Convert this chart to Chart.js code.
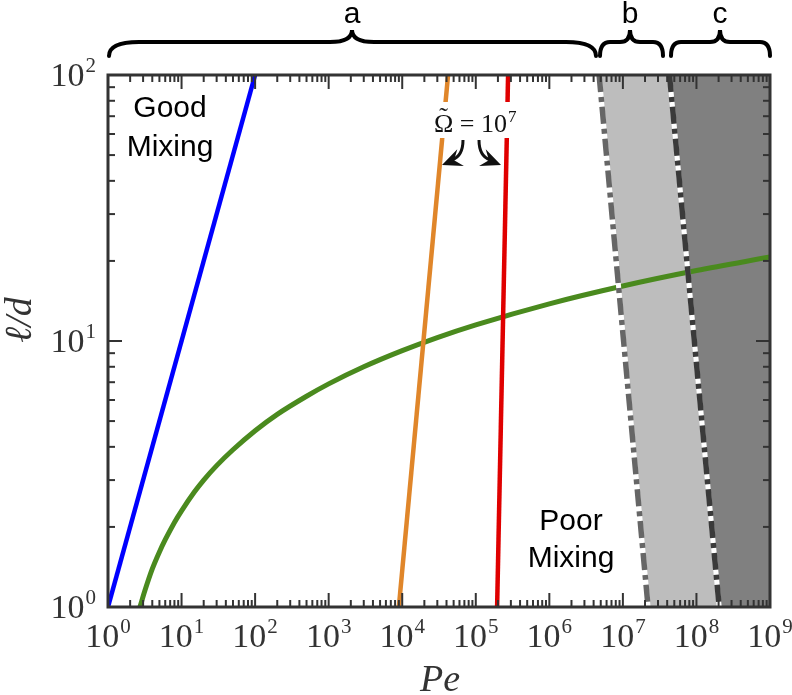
<!DOCTYPE html>
<html>
<head>
<meta charset="utf-8">
<script src="https://cdn.jsdelivr.net/npm/chart.js@4.4.1/dist/chart.umd.min.js"></script>
<style>
  html, body { margin: 0; padding: 0; background: #fff; }
  #wrap { width: 792px; height: 695px; position: relative; }
</style>
</head>
<body>
<div id="wrap"><canvas id="chart"></canvas></div>
<script>
// x = Pe, y = l/d
const blueX = [1, 100];
const blueY = [1, 100];
const orangeX = [9.0e3, 4.2e4];
const orangeY = [1, 100];
const redX = [1.95e5, 2.75e5];
const redY = [1, 100];
const greenX = [2.72, 3.2, 4, 5, 6, 8, 10, 15, 20, 30, 50, 100, 200, 500, 1e3, 3e3, 1e4, 3e4, 1e5, 1e6, 1e7, 1e8, 1e9];
const greenY = [1.0, 1.16, 1.39, 1.61, 1.79, 2.08, 2.3, 2.71, 3.0, 3.4, 3.9, 4.6, 5.3, 6.2, 6.9, 8.0, 9.2, 10.3, 11.5, 13.8, 16.1, 18.4, 20.7];

// dashed boundaries of the shaded bands b and c (top end first)
const bandBX = [4.75e6, 2.2e7];
const bandCX = [4.3e7, 2.04e8];
const bandY = [100, 1];

const xTickExps = [0, 1, 2, 3, 4, 5, 6, 7, 8, 9];
const yTickExps = [0, 1, 2];
const xMin = 1, xMax = 1e9, yMin = 1, yMax = 100;

const SERIF = '"Liberation Serif", "DejaVu Serif", serif';
const SANS = '"Liberation Sans", Arial, sans-serif';

function pts(xs, ys) {
  return xs.map((x, i) => ({ x: x, y: ys[i] }));
}

// closed polygons for the grey bands
const lightBand = [
  { x: bandBX[0], y: bandY[0] }, { x: bandCX[0], y: bandY[0] },
  { x: bandCX[1], y: bandY[1] }, { x: bandBX[1], y: bandY[1] },
  { x: bandBX[0], y: bandY[0] }
];
const darkBand = [
  { x: bandCX[0], y: bandY[0] }, { x: xMax, y: yMax },
  { x: xMax, y: yMin }, { x: bandCX[1], y: bandY[1] },
  { x: bandCX[0], y: bandY[0] }
];

function line(ctx, x1, y1, x2, y2) {
  ctx.beginPath();
  ctx.moveTo(x1, y1);
  ctx.lineTo(x2, y2);
  ctx.stroke();
}

// "10" with a raised exponent
function power(ctx, exp, px, py, align, big, small) {
  ctx.font = big + 'px ' + SERIF;
  const wb = ctx.measureText('10').width;
  ctx.font = small + 'px ' + SERIF;
  const we = ctx.measureText(String(exp)).width;
  const total = wb + 1 + we;
  let sx = px;
  if (align === 'center') sx = px - total / 2;
  if (align === 'right') sx = px - total;
  ctx.textAlign = 'left';
  ctx.textBaseline = 'alphabetic';
  ctx.font = big + 'px ' + SERIF;
  ctx.fillText('10', sx, py);
  ctx.font = small + 'px ' + SERIF;
  ctx.fillText(String(exp), sx + wb + 1, py - big * 0.4);
}

function brace(ctx, x1, x2, xm, yEnd, yMid, yPeak, r, r2) {
  ctx.beginPath();
  ctx.moveTo(x1, yEnd);
  ctx.quadraticCurveTo(x1, yMid, x1 + r, yMid);
  ctx.lineTo(xm - r2, yMid);
  ctx.quadraticCurveTo(xm, yMid, xm, yPeak);
  ctx.quadraticCurveTo(xm, yMid, xm + r2, yMid);
  ctx.lineTo(x2 - r, yMid);
  ctx.quadraticCurveTo(x2, yMid, x2, yEnd);
  ctx.stroke();
}

function arrowHead(ctx, tx, ty, ang) {
  const L = 20, W = 9, back = 13;
  const c = Math.cos(ang), s = Math.sin(ang);
  ctx.beginPath();
  ctx.moveTo(tx, ty);
  ctx.lineTo(tx - L * c + W * s, ty - L * s - W * c);
  ctx.lineTo(tx - back * c, ty - back * s);
  ctx.lineTo(tx - L * c - W * s, ty - L * s + W * c);
  ctx.closePath();
  ctx.fill();
}

const decor = {
  id: 'decor',
  afterDraw(chart) {
    const { ctx, chartArea: a, scales: { x, y } } = chart;
    ctx.save();

    // white box behind the Omega label
    ctx.fillStyle = '#fff';
    ctx.fillRect(428, 102, 94, 36);
    ctx.fillStyle = '#111';
    ctx.font = '26px ' + SERIF;
    ctx.textAlign = 'left';
    ctx.textBaseline = 'alphabetic';
    ctx.fillText('\u03A9', 434, 132);
    const omw = ctx.measureText('\u03A9').width;
    ctx.textAlign = 'center';
    ctx.fillText('\u02DC', 434 + omw / 2, 125);
    ctx.textAlign = 'left';
    ctx.fillText(' = ', 434 + omw, 132);
    const ow = omw + ctx.measureText(' = ').width;
    power(ctx, 7, 434 + ow, 132, 'left', 26, 17);

    // the two curved arrows
    ctx.strokeStyle = '#111';
    ctx.fillStyle = '#111';
    ctx.lineWidth = 3;
    ctx.beginPath();
    ctx.moveTo(463, 140);
    ctx.quadraticCurveTo(463, 156, 452, 160);
    ctx.stroke();
    arrowHead(ctx, 442, 165, Math.PI * 0.88);
    ctx.beginPath();
    ctx.moveTo(479, 140);
    ctx.quadraticCurveTo(479, 156, 490, 160);
    ctx.stroke();
    arrowHead(ctx, 501, 165, Math.PI * 0.12);

    // region labels
    ctx.fillStyle = '#000';
    ctx.font = '30px ' + SANS;
    ctx.textAlign = 'center';
    ctx.fillText('Good', 170, 117);
    ctx.fillText('Mixing', 170, 156);
    ctx.fillText('Poor', 571, 530);
    ctx.fillText('Mixing', 571, 567);

    // frame and inward ticks on all four sides
    ctx.strokeStyle = '#333';
    ctx.lineWidth = 2;
    for (let e = xTickExps[0]; e < xTickExps[xTickExps.length - 1]; e++) {
      for (let m = 1; m < 10; m++) {
        const px = x.getPixelForValue(m * Math.pow(10, e));
        const len = m === 1 ? 14 : 7;
        line(ctx, px, a.bottom, px, a.bottom - len);
        line(ctx, px, a.top, px, a.top + len);
      }
    }
    for (let e = yTickExps[0]; e < yTickExps[yTickExps.length - 1]; e++) {
      for (let m = 1; m < 10; m++) {
        const py = y.getPixelForValue(m * Math.pow(10, e));
        const len = m === 1 ? 14 : 7;
        line(ctx, a.left, py, a.left + len, py);
        line(ctx, a.right, py, a.right - len, py);
      }
    }
    ctx.lineWidth = 3;
    ctx.strokeRect(a.left, a.top, a.right - a.left, a.bottom - a.top);

    // tick labels
    ctx.fillStyle = '#333';
    for (const e of xTickExps) {
      power(ctx, e, x.getPixelForValue(Math.pow(10, e)), 647, 'center', 34, 21);
    }
    for (const e of yTickExps) {
      power(ctx, e, 96, y.getPixelForValue(Math.pow(10, e)) + 11, 'right', 34, 21);
    }

    // axis titles
    ctx.font = 'italic 38px ' + SERIF;
    ctx.textAlign = 'center';
    ctx.textBaseline = 'alphabetic';
    ctx.fillText('Pe', 440, 691);
    ctx.save();
    ctx.translate(31, 320);
    ctx.rotate(-Math.PI / 2);
    ctx.fillText('\u2113/d', 0, 0);
    ctx.restore();

    // braces a, b, c above the plot
    ctx.strokeStyle = '#000';
    ctx.lineWidth = 4;
    ctx.lineCap = 'round';
    brace(ctx, 109, 596, 352, 56, 42, 30, 30, 22);
    brace(ctx, 600, 663, 630, 56, 42, 30, 10, 10);
    brace(ctx, 671, 770, 720, 56, 42, 30, 10, 10);
    ctx.fillStyle = '#000';
    ctx.font = '30px ' + SANS;
    ctx.textAlign = 'center';
    ctx.fillText('a', 352, 23);
    ctx.fillText('b', 630, 23);
    ctx.fillText('c', 720, 23);

    ctx.restore();
  }
};

const chart = new Chart(document.getElementById('chart'), {
  type: 'line',
  data: {
    datasets: [
      { data: lightBand, fill: 'shape', backgroundColor: '#bdbdbd', borderWidth: 0, order: 10 },
      { data: darkBand, fill: 'shape', backgroundColor: '#808080', borderWidth: 0, order: 10 },
      { data: pts(blueX, blueY), borderColor: '#0000ff', borderWidth: 4.5, order: 2 },
      { data: pts(orangeX, orangeY), borderColor: '#e0862a', borderWidth: 4.5, order: 2 },
      { data: pts(redX, redY), borderColor: '#e00000', borderWidth: 4.5, order: 2 },
      { data: pts(greenX, greenY), borderColor: '#4a8a1e', borderWidth: 5, cubicInterpolationMode: 'monotone', order: 3 },
      // white under-lines so the dash gaps show white
      { data: pts(bandBX, bandY), borderColor: '#ffffff', borderWidth: 5, order: 1.5 },
      { data: pts(bandCX, bandY), borderColor: '#ffffff', borderWidth: 5, order: 1.5 },
      { data: pts(bandBX, bandY), borderColor: '#666666', borderWidth: 5.5, borderDash: [17, 5, 5, 5], order: 1 },
      { data: pts(bandCX, bandY), borderColor: '#3a3a3a', borderWidth: 5.5, borderDash: [17, 5, 5, 5], order: 1 }
    ]
  },
  options: {
    animation: false,
    responsive: true,
    maintainAspectRatio: false,
    layout: { padding: { left: 108, right: 22, top: 75, bottom: 88 } },
    elements: { point: { radius: 0, hoverRadius: 0 }, line: { fill: false } },
    plugins: { legend: { display: false }, tooltip: { enabled: false } },
    scales: {
      x: { type: 'logarithmic', min: xMin, max: xMax, display: false },
      y: { type: 'logarithmic', min: yMin, max: yMax, display: false }
    }
  },
  plugins: [decor]
});
</script>
</body>
</html>
